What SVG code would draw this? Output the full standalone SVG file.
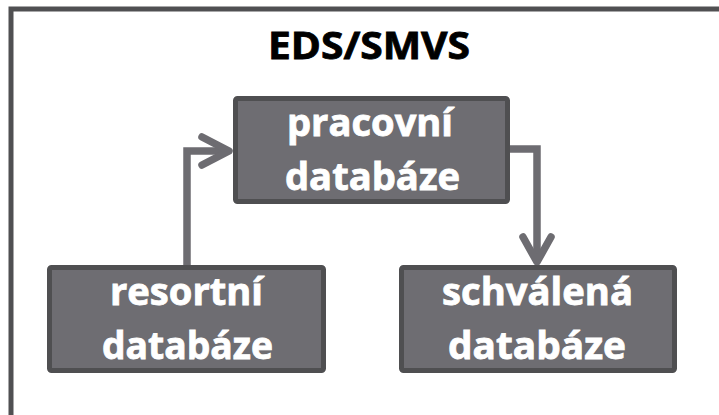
<svg xmlns="http://www.w3.org/2000/svg" width="719" height="415" viewBox="0 0 719 415">
  <style>
    .frame { fill: none; stroke: #505052; stroke-width: 5; }
    .box { fill: #6e6d72; stroke: #4f4f51; stroke-width: 5; }
    .label { fill: #ffffff; stroke: #ffffff; stroke-width: 0.8; font-family: "Open Sans", "Noto Sans", "Liberation Sans", sans-serif; font-weight: bold; font-size: 37px; text-anchor: middle; }
    .title { fill: #000000; stroke: #000000; stroke-width: 0.8; font-family: "Open Sans", "Noto Sans", "Liberation Sans", sans-serif; font-weight: bold; font-size: 37px; text-anchor: middle; }
    .conn { fill: none; stroke: #6d6c71; stroke-width: 7.5; stroke-linejoin: miter; }
    .head { fill: none; stroke: #6d6c71; stroke-width: 7.5; stroke-linecap: round; stroke-linejoin: round; }
  </style>

  <!-- outer frame, open to the right and bottom -->
  <path class="frame" d="M11,415 V9 H719"/>

  <text class="title" x="369" y="59" textLength="202" lengthAdjust="spacingAndGlyphs">EDS/SMVS</text>

  <g id="connectors">
    <!-- resortní -> pracovní -->
    <path class="conn" d="M187,266 V151 H228"/>
    <path class="head" d="M202,137 L229,151 L202,165"/>
    <!-- pracovní -> schválená -->
    <path class="conn" d="M508,149 H537 V260"/>
    <path class="head" d="M523,237 L537,262 L551,237"/>
  </g>

  <g id="pracovni">
    <rect class="box" x="235.5" y="98.5" width="272" height="103" rx="2"/>
    <text class="label" x="370" y="136" textLength="166" lengthAdjust="spacingAndGlyphs">pracovní</text>
    <text class="label" x="372.5" y="190" textLength="175" lengthAdjust="spacingAndGlyphs">databáze</text>
  </g>

  <g id="resortni">
    <rect class="box" x="49.5" y="267.5" width="274" height="103" rx="2"/>
    <text class="label" x="186.5" y="305" textLength="153" lengthAdjust="spacingAndGlyphs">resortní</text>
    <text class="label" x="187.5" y="359" textLength="171" lengthAdjust="spacingAndGlyphs">databáze</text>
  </g>

  <g id="schvalena">
    <rect class="box" x="401.5" y="267.5" width="273" height="103" rx="2"/>
    <text class="label" x="537.5" y="305" textLength="191" lengthAdjust="spacingAndGlyphs">schválená</text>
    <text class="label" x="537" y="359" textLength="178" lengthAdjust="spacingAndGlyphs">databáze</text>
  </g>
</svg>
